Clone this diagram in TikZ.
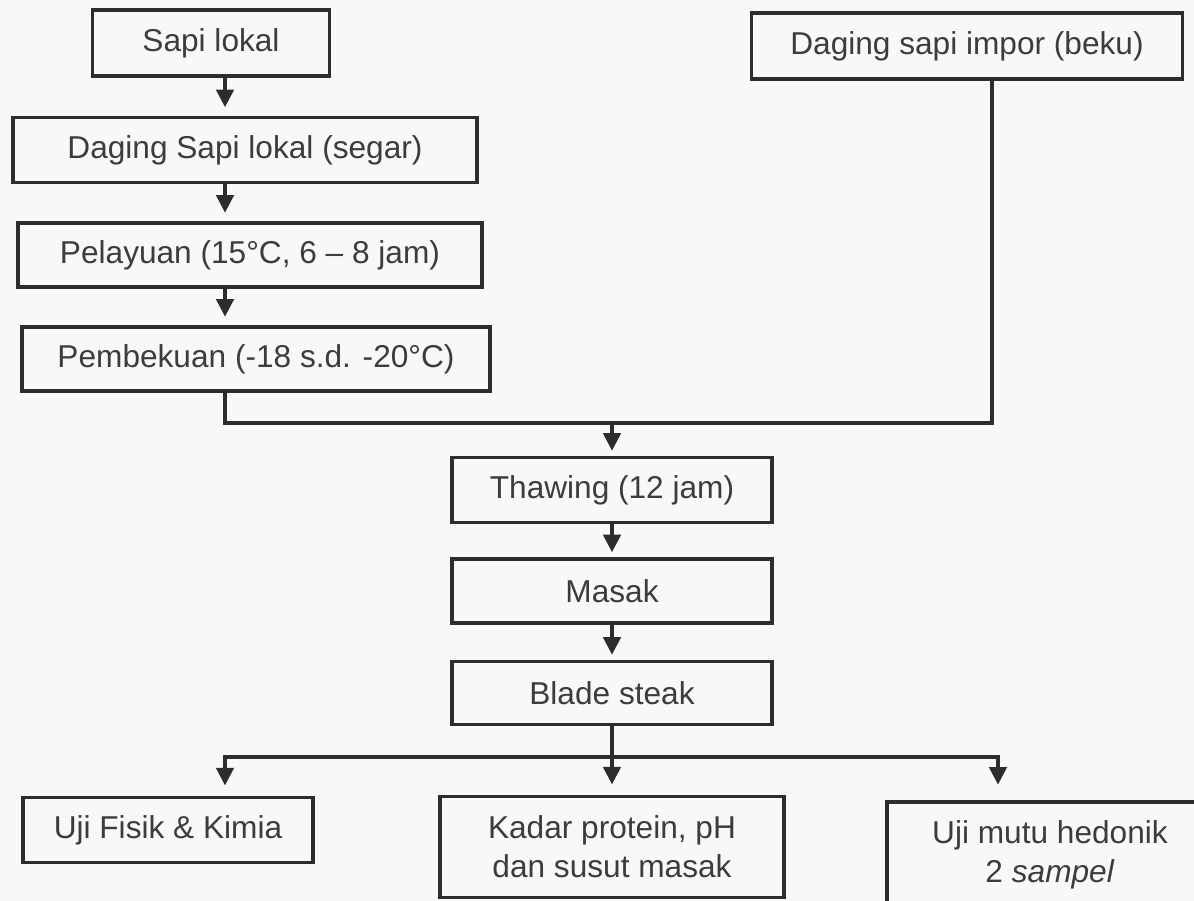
\documentclass[tikz,border=0pt]{standalone}
\usepackage{fontspec}
\setmainfont{Liberation Sans}
\usetikzlibrary{arrows.meta, calc}
\definecolor{DG}{RGB}{45,45,45}
\definecolor{TX}{RGB}{60,60,60}
\definecolor{BG}{RGB}{248,248,248}

\tikzset{
  stepbox/.style={draw=DG, line width=1.8pt, fill=BG, text=TX,
    font=\fontsize{18}{22}\selectfont, align=center, inner sep=0pt},
  ln/.style={draw=DG, line width=1.8pt},
  arr/.style={ln, -{Triangle[length=10pt, width=10pt]}, shorten >=5pt}
}

\begin{document}
\begin{tikzpicture}[x=0.02cm, y=-0.02cm]
% page frame
\fill[BG] (0,0) rectangle (1194,901);
\useasboundingbox (0,0) rectangle (1194,901);

% left chain
\node[stepbox, minimum width=4.74cm, minimum height=1.32cm] (sapi) at (211,43) {Sapi lokal};
\node[stepbox, minimum width=9.28cm, minimum height=1.30cm] (segar) at (245,150) {Daging Sapi lokal (segar)};
\node[stepbox, minimum width=9.28cm, minimum height=1.28cm] (layu) at (250,255) {Pelayuan (15°C, 6 – 8 jam)};
\node[stepbox, minimum width=9.36cm, minimum height=1.28cm] (beku) at (256,359) {Pembekuan (-18 s.d. -20°C)};

% right source
\node[stepbox, minimum width=8.62cm, minimum height=1.32cm] (impor) at (967,46) {Daging sapi impor (beku)};

% middle chain
\node[stepbox, minimum width=6.40cm, minimum height=1.30cm] (thaw) at (612,490) {Thawing (12 jam)};
\node[stepbox, minimum width=6.40cm, minimum height=1.28cm] (masak) at (612,591) {Masak};
\node[stepbox, minimum width=6.40cm, minimum height=1.26cm] (blade) at (612,693) {Blade steak};

% results
\node[stepbox, minimum width=5.80cm, minimum height=1.30cm] (fisik) at (168,830) {Uji Fisik \& Kimia};
\node[stepbox, minimum width=6.88cm, minimum height=2.02cm] (kadar) at (612,847) {Kadar protein, pH\\dan susut masak};
\node[stepbox, minimum width=6.52cm, minimum height=2.12cm] (hedon) at (1050,855) {Uji mutu hedonik\\2 \textit{sampel}};

% columns and joints
\coordinate (cL) at (225,0);
\coordinate (cR) at (992,0);
\coordinate (jn) at (612,423);
\coordinate (spM) at (612,757);
\coordinate (spL) at (225,0);
\coordinate (spR) at (998,0);

% arrows
\draw[arr] (sapi.south -| cL) -- (segar.north -| cL);
\draw[arr] (segar.south -| cL) -- (layu.north -| cL);
\draw[arr] (layu.south -| cL) -- (beku.north -| cL);
\draw[ln] (beku.south -| cL) |- (jn) -| (impor.south -| cR);
\draw[arr, shorten >=3pt] (jn) -- (thaw.north);
\draw[arr, shorten >=3pt] (thaw.south) -- (masak.north);
\draw[arr, shorten >=3pt] (masak.south) -- (blade.north);
\draw[arr, shorten >=6pt] (blade.south) -- (kadar.north);
\draw[arr, shorten >=6pt] (spM) -| (fisik.north -| spL);
\draw[arr, shorten >=9pt] (spM) -| (hedon.north -| spR);
\end{tikzpicture}
\end{document}
